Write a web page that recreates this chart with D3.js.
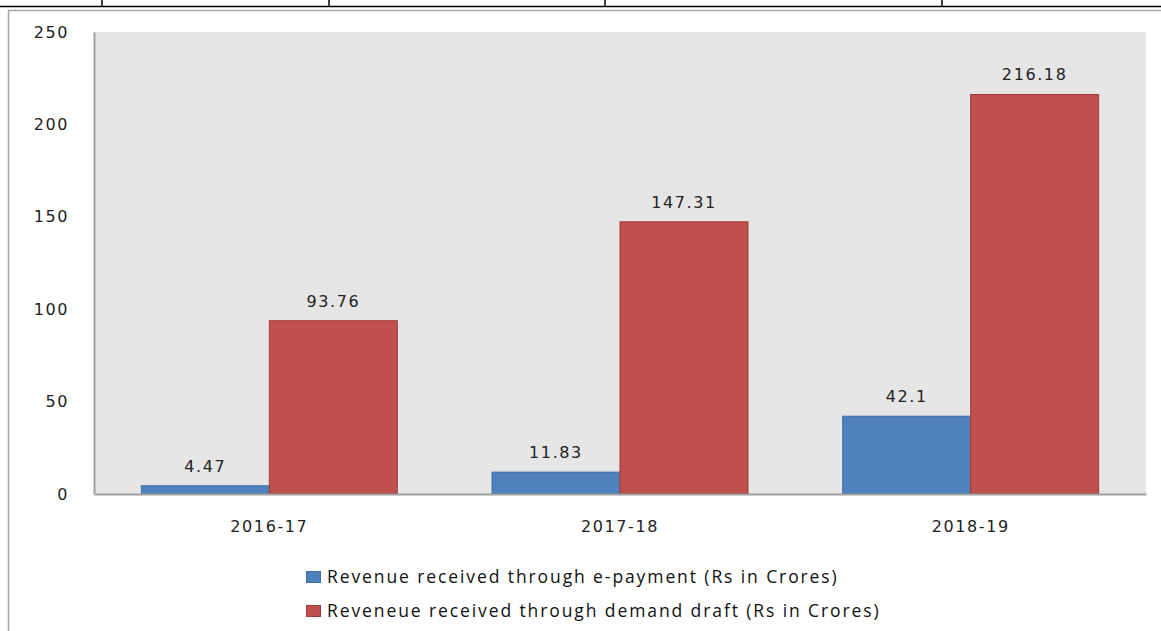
<!DOCTYPE html>
<html>
<head>
<meta charset="utf-8">
<script src="https://cdn.jsdelivr.net/npm/d3@7"></script>
<style>
body { margin: 0; background: #fff; }
svg { display: block; }
</style>
</head>
<body>
<div id="chart"></div>
<script>
// revenue by year, two series
var years = ["2016-17", "2017-18", "2018-19"];
var ePayment = [4.47, 11.83, 42.1];
var demandDraft = [93.76, 147.31, 216.18];
var seriesNames = ["Revenue received through e-payment (Rs in Crores)",
                   "Reveneue received through demand draft (Rs in Crores)"];
var seriesColors = ["#4f81bd", "#c0504d"];
var strokeColors = ["#3f6ea5", "#9c3b38"];
var yTicks = [0, 50, 100, 150, 200, 250];

var width = 1161, height = 631;
var plotLeft = 94, plotRight = 1146, plotTop = 32, plotBottom = 494;

var svg = d3.select("div#chart")
    .append("svg")
    .attr("width", width)
    .attr("height", height);

// table row lines above the chart
svg.append("line").attr("x1", 0).attr("x2", width).attr("y1", 6.5).attr("y2", 6.5)
    .attr("stroke", "#000").attr("stroke-width", 1.5);
[102, 329, 605, 942].forEach(function(x) {
    svg.append("line").attr("x1", x).attr("x2", x).attr("y1", 0).attr("y2", 7)
        .attr("stroke", "#000").attr("stroke-width", 1.5);
});

// outer chart frame
svg.append("line").attr("x1", 8).attr("x2", width).attr("y1", 10.5).attr("y2", 10.5)
    .attr("stroke", "#a6a6a6").attr("stroke-width", 1.5);
svg.append("line").attr("x1", 8.5).attr("x2", 8.5).attr("y1", 10).attr("y2", height)
    .attr("stroke", "#a6a6a6").attr("stroke-width", 1.5);

var x0 = d3.scaleBand().domain(years).range([plotLeft, plotRight]).paddingInner(0).paddingOuter(0);
var x1 = d3.scaleBand().domain([0, 1]).range([0, x0.bandwidth()]).paddingOuter(0.37).paddingInner(0);
var y = d3.scaleLinear().domain([0, 250]).range([plotBottom, plotTop]);

// plot area
svg.append("rect")
    .attr("x", plotLeft).attr("y", plotTop)
    .attr("width", plotRight - plotLeft).attr("height", plotBottom - plotTop)
    .attr("fill", "#e6e6e6");

var fontFamily = "'DejaVu Sans', Verdana, sans-serif";
var fontSize = 16;
var spacing = "1.6px";

var yAxis = svg.append("g")
    .attr("transform", "translate(" + plotLeft + ",0)")
    .call(d3.axisLeft(y).tickValues(yTicks).tickSize(0).tickPadding(25));
yAxis.select(".domain").attr("stroke", "#a0a0a0").attr("stroke-width", 2);
yAxis.selectAll("text")
    .attr("font-family", fontFamily).attr("font-size", fontSize).attr("fill", "#222")
    .attr("letter-spacing", spacing);

var groups = svg.selectAll("g.year")
    .data(years)
    .enter().append("g")
    .attr("class", "year")
    .attr("transform", (d) => "translate(" + x0(d) + ",0)");

var rows = years.map((d, i) => [ePayment[i], demandDraft[i]]);

groups.selectAll("rect")
    .data((d, i) => rows[i])
    .enter().append("rect")
    .attr("x", (d, j) => x1(j))
    .attr("y", (d) => y(d))
    .attr("width", x1.bandwidth())
    .attr("height", (d) => y(0) - y(d))
    .attr("fill", (d, j) => seriesColors[j])
    .attr("stroke", (d, j) => strokeColors[j])
    .attr("stroke-width", 1);

groups.selectAll("text.val")
    .data((d, i) => rows[i])
    .enter().append("text")
    .attr("class", "val")
    .attr("x", (d, j) => x1(j) + x1.bandwidth() / 2)
    .attr("y", (d) => y(d) - 14)
    .attr("text-anchor", "middle")
    .attr("font-family", fontFamily).attr("font-size", fontSize).attr("fill", "#222")
    .attr("letter-spacing", spacing)
    .text((d) => d);

var xAxis = svg.append("g")
    .attr("transform", "translate(0," + plotBottom + ")")
    .call(d3.axisBottom(x0).tickSize(0).tickPadding(27));
xAxis.select(".domain").attr("stroke", "#a0a0a0").attr("stroke-width", 2);
xAxis.selectAll("text")
    .attr("font-family", fontFamily).attr("font-size", fontSize).attr("fill", "#222")
    .attr("letter-spacing", spacing);

// legend
var legend = svg.selectAll("g.legend")
    .data(seriesNames)
    .enter().append("g")
    .attr("class", "legend")
    .attr("transform", (d, i) => "translate(306," + (583 + i * 34) + ")");
legend.append("rect")
    .attr("x", 0.5).attr("y", -11.5).attr("width", 14).attr("height", 11)
    .attr("fill", (d, i) => seriesColors[i])
    .attr("stroke", (d, i) => strokeColors[i]);
legend.append("text")
    .attr("x", 21).attr("y", 0)
    .attr("font-family", "'Open Sans', sans-serif").attr("font-size", 17.5).attr("fill", "#111")
    .attr("letter-spacing", "1.9px")
    .text((d) => d);
</script>
</body>
</html>
